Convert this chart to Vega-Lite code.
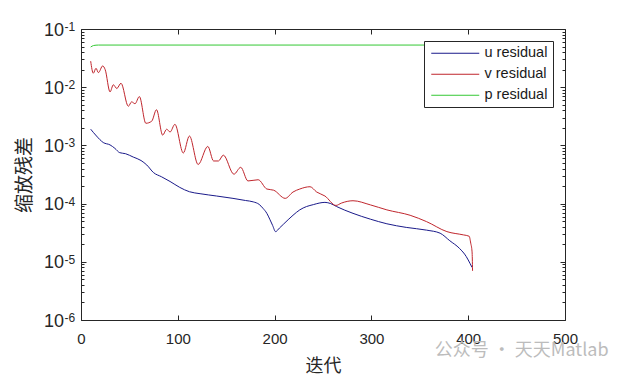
{
  "$schema": "https://vega.github.io/schema/vega-lite/v6.json",
  "width": 484,
  "height": 291,
  "autosize": "none",
  "padding": {"left": 81, "top": 29, "right": 60, "bottom": 55},
  "background": "white",
  "title": {"text": "公众号 · 天天Matlab", "orient": "bottom", "anchor": "end", "font": "Noto Sans CJK SC", "fontSize": 18, "fontWeight": "normal", "color": "#bcbcbc", "offset": -33, "dx": 31},
  "config": {
    "view": {"stroke": null},
    "axis": {"grid": false, "domainColor": "#262626", "domainWidth": 1, "tickColor": "#262626", "tickWidth": 1, "labelColor": "#262626", "labelFont": "Liberation Sans", "labelFontSize": 15, "labelFlush": false, "labelOverlap": false, "titleFont": "Noto Sans CJK SC", "titleFontSize": 18, "titleFontWeight": "normal", "titleColor": "#262626"}
  },
  "datasets": {
    "res": [
      {"series": "u residual", "iter": 10, "value": 0.0019},
      {"series": "u residual", "iter": 16, "value": 0.00145},
      {"series": "u residual", "iter": 23, "value": 0.00112},
      {"series": "u residual", "iter": 30, "value": 0.00102},
      {"series": "u residual", "iter": 35, "value": 0.00089},
      {"series": "u residual", "iter": 40, "value": 0.00075},
      {"series": "u residual", "iter": 46, "value": 0.00072},
      {"series": "u residual", "iter": 54, "value": 0.00063},
      {"series": "u residual", "iter": 62, "value": 0.00055},
      {"series": "u residual", "iter": 68, "value": 0.00046},
      {"series": "u residual", "iter": 75, "value": 0.00034},
      {"series": "u residual", "iter": 83, "value": 0.00029},
      {"series": "u residual", "iter": 92, "value": 0.00024},
      {"series": "u residual", "iter": 102, "value": 0.00019},
      {"series": "u residual", "iter": 112, "value": 0.00016},
      {"series": "u residual", "iter": 123, "value": 0.000148},
      {"series": "u residual", "iter": 140, "value": 0.000135},
      {"series": "u residual", "iter": 157, "value": 0.000123},
      {"series": "u residual", "iter": 170, "value": 0.000113},
      {"series": "u residual", "iter": 178, "value": 0.000107},
      {"series": "u residual", "iter": 184, "value": 0.000097},
      {"series": "u residual", "iter": 188, "value": 0.000083},
      {"series": "u residual", "iter": 192, "value": 0.000068},
      {"series": "u residual", "iter": 195, "value": 0.000054},
      {"series": "u residual", "iter": 198, "value": 0.000042},
      {"series": "u residual", "iter": 201, "value": 0.000033},
      {"series": "u residual", "iter": 205, "value": 0.000038},
      {"series": "u residual", "iter": 209, "value": 0.000044},
      {"series": "u residual", "iter": 219, "value": 0.000063},
      {"series": "u residual", "iter": 226, "value": 0.000078},
      {"series": "u residual", "iter": 233, "value": 0.000089},
      {"series": "u residual", "iter": 240, "value": 0.000096},
      {"series": "u residual", "iter": 246, "value": 0.000102},
      {"series": "u residual", "iter": 252, "value": 0.000105},
      {"series": "u residual", "iter": 258, "value": 0.0001},
      {"series": "u residual", "iter": 264, "value": 0.000089},
      {"series": "u residual", "iter": 281, "value": 0.000068},
      {"series": "u residual", "iter": 299, "value": 0.000054},
      {"series": "u residual", "iter": 316, "value": 0.000045},
      {"series": "u residual", "iter": 336, "value": 0.000039},
      {"series": "u residual", "iter": 357, "value": 0.000035},
      {"series": "u residual", "iter": 371, "value": 0.000031},
      {"series": "u residual", "iter": 381, "value": 0.000023},
      {"series": "u residual", "iter": 391, "value": 0.000017},
      {"series": "u residual", "iter": 398, "value": 0.0000123},
      {"series": "u residual", "iter": 402, "value": 0.0000093},
      {"series": "u residual", "iter": 404, "value": 0.000008},
      {"series": "v residual", "iter": 10, "value": 0.028},
      {"series": "v residual", "iter": 12.7, "value": 0.0174},
      {"series": "v residual", "iter": 15.5, "value": 0.0211},
      {"series": "v residual", "iter": 18, "value": 0.0178},
      {"series": "v residual", "iter": 22.4, "value": 0.0232},
      {"series": "v residual", "iter": 25, "value": 0.02},
      {"series": "v residual", "iter": 30, "value": 0.0083},
      {"series": "v residual", "iter": 33.4, "value": 0.011},
      {"series": "v residual", "iter": 37, "value": 0.0095},
      {"series": "v residual", "iter": 41.3, "value": 0.0117},
      {"series": "v residual", "iter": 48.9, "value": 0.0047},
      {"series": "v residual", "iter": 52.3, "value": 0.0056},
      {"series": "v residual", "iter": 55.8, "value": 0.0052},
      {"series": "v residual", "iter": 60.3, "value": 0.0069},
      {"series": "v residual", "iter": 67, "value": 0.0024},
      {"series": "v residual", "iter": 73, "value": 0.0026},
      {"series": "v residual", "iter": 78, "value": 0.0041},
      {"series": "v residual", "iter": 84.4, "value": 0.0015},
      {"series": "v residual", "iter": 88.5, "value": 0.0019},
      {"series": "v residual", "iter": 92, "value": 0.0017},
      {"series": "v residual", "iter": 97, "value": 0.0023},
      {"series": "v residual", "iter": 105.7, "value": 0.00074},
      {"series": "v residual", "iter": 112, "value": 0.00145},
      {"series": "v residual", "iter": 121, "value": 0.00047},
      {"series": "v residual", "iter": 131, "value": 0.00096},
      {"series": "v residual", "iter": 137, "value": 0.00054},
      {"series": "v residual", "iter": 142, "value": 0.00054},
      {"series": "v residual", "iter": 147, "value": 0.00068},
      {"series": "v residual", "iter": 158, "value": 0.00032},
      {"series": "v residual", "iter": 165, "value": 0.00042},
      {"series": "v residual", "iter": 172.5, "value": 0.000245},
      {"series": "v residual", "iter": 183, "value": 0.000257},
      {"series": "v residual", "iter": 192, "value": 0.000178},
      {"series": "v residual", "iter": 199, "value": 0.00017},
      {"series": "v residual", "iter": 211, "value": 0.000123},
      {"series": "v residual", "iter": 219, "value": 0.000158},
      {"series": "v residual", "iter": 226, "value": 0.000178},
      {"series": "v residual", "iter": 236.6, "value": 0.000195},
      {"series": "v residual", "iter": 243.5, "value": 0.000158},
      {"series": "v residual", "iter": 252, "value": 0.000135},
      {"series": "v residual", "iter": 263.4, "value": 0.000093},
      {"series": "v residual", "iter": 269, "value": 0.000102},
      {"series": "v residual", "iter": 281, "value": 0.000112},
      {"series": "v residual", "iter": 299, "value": 0.000095},
      {"series": "v residual", "iter": 316, "value": 0.000078},
      {"series": "v residual", "iter": 340, "value": 0.000063},
      {"series": "v residual", "iter": 357, "value": 0.000049},
      {"series": "v residual", "iter": 378, "value": 0.000033},
      {"series": "v residual", "iter": 395, "value": 0.000029},
      {"series": "v residual", "iter": 401, "value": 0.0000275},
      {"series": "v residual", "iter": 402.6, "value": 0.000021},
      {"series": "v residual", "iter": 404, "value": 0.0000148},
      {"series": "v residual", "iter": 404.5, "value": 0.000007},
      {"series": "p residual", "iter": 10, "value": 0.049},
      {"series": "p residual", "iter": 13, "value": 0.052},
      {"series": "p residual", "iter": 18, "value": 0.053},
      {"series": "p residual", "iter": 404, "value": 0.053}
    ]
  },
  "layer": [
    {
      "data": {"name": "res"},
      "mark": {"type": "line", "strokeWidth": 1, "interpolate": "monotone", "clip": true},
      "encoding": {
        "x": {"field": "iter", "type": "quantitative",
          "scale": {"domain": [0, 500], "nice": false, "zero": false},
          "axis": {"orient": "bottom", "values": [0, 100, 200, 300, 400, 500], "tickSize": -5, "labelPadding": 16, "title": "迭代", "titlePadding": 11}},
        "y": {"field": "value", "type": "quantitative",
          "scale": {"type": "log", "domain": [0.000001, 0.1], "nice": false},
          "axis": {"orient": "left",
            "values": [1e-6, 2e-6, 3e-6, 4e-6, 5e-6, 6e-6, 7e-6, 8e-6, 9e-6, 1e-5, 2e-5, 3e-5, 4e-5, 5e-5, 6e-5, 7e-5, 8e-5, 9e-5, 1e-4, 2e-4, 3e-4, 4e-4, 5e-4, 6e-4, 7e-4, 8e-4, 9e-4, 1e-3, 2e-3, 3e-3, 4e-3, 5e-3, 6e-3, 7e-3, 8e-3, 9e-3, 1e-2, 2e-2, 3e-2, 4e-2, 5e-2, 6e-2, 7e-2, 8e-2, 9e-2, 1e-1],
            "tickSize": {"condition": {"test": "abs(log(datum.value)/LN10 - round(log(datum.value)/LN10)) < 0.001", "value": -5}, "value": -3},
            "labelExpr": "abs(log(datum.value)/LN10 - round(log(datum.value)/LN10)) < 0.001 ? '10' : ''",
            "labelFontSize": 18, "labelPadding": 22.5, "labelOffset": 1,
            "title": "缩放残差", "titleFontSize": 19, "titlePadding": 9}},
        "color": {"field": "series", "type": "nominal",
          "scale": {"domain": ["u residual", "v residual", "p residual"], "range": ["#1a1a8a", "#c0262d", "#34c834"]},
          "legend": {"orient": "top-right", "offset": 12, "title": null, "strokeColor": "#262626", "fillColor": "white", "padding": 5, "rowPadding": 6, "symbolType": "M-1,0H8.6", "symbolSize": 100, "symbolStrokeWidth": 1, "labelFont": "Liberation Sans", "labelFontSize": 14.5, "labelColor": "#1a1a1a", "labelOffset": 41, "cornerRadius": 0}}
      }
    },
    {
      "data": {"name": "res"},
      "mark": {"type": "point", "opacity": 0},
      "encoding": {
        "x": {"field": "iter", "type": "quantitative",
          "axis": {"orient": "top", "values": [0, 100, 200, 300, 400, 500], "tickSize": -5, "labels": false, "title": null}},
        "y": {"field": "value", "type": "quantitative",
          "axis": {"orient": "right",
            "values": [1e-6, 2e-6, 3e-6, 4e-6, 5e-6, 6e-6, 7e-6, 8e-6, 9e-6, 1e-5, 2e-5, 3e-5, 4e-5, 5e-5, 6e-5, 7e-5, 8e-5, 9e-5, 1e-4, 2e-4, 3e-4, 4e-4, 5e-4, 6e-4, 7e-4, 8e-4, 9e-4, 1e-3, 2e-3, 3e-3, 4e-3, 5e-3, 6e-3, 7e-3, 8e-3, 9e-3, 1e-2, 2e-2, 3e-2, 4e-2, 5e-2, 6e-2, 7e-2, 8e-2, 9e-2, 1e-1],
            "tickSize": {"condition": {"test": "abs(log(datum.value)/LN10 - round(log(datum.value)/LN10)) < 0.001", "value": -5}, "value": -3},
            "labels": false, "title": null}}
      }
    },
    {
      "data": {"name": "res"},
      "mark": {"type": "point", "opacity": 0},
      "encoding": {
        "x": {"field": "iter", "type": "quantitative", "axis": null},
        "y": {"field": "value", "type": "quantitative",
          "axis": {"orient": "left", "values": [1e-6, 1e-5, 1e-4, 1e-3, 1e-2, 1e-1],
            "domain": false, "ticks": false,
            "labelExpr": "'-' + format(-round(log(datum.value)/LN10), 'd')",
            "labelFontSize": 12, "labelAlign": "left", "labelPadding": 17, "labelOffset": -2.5,
            "title": null}}
      }
    }
  ],
  "resolve": {"axis": {"x": "independent", "y": "independent"}}
}
